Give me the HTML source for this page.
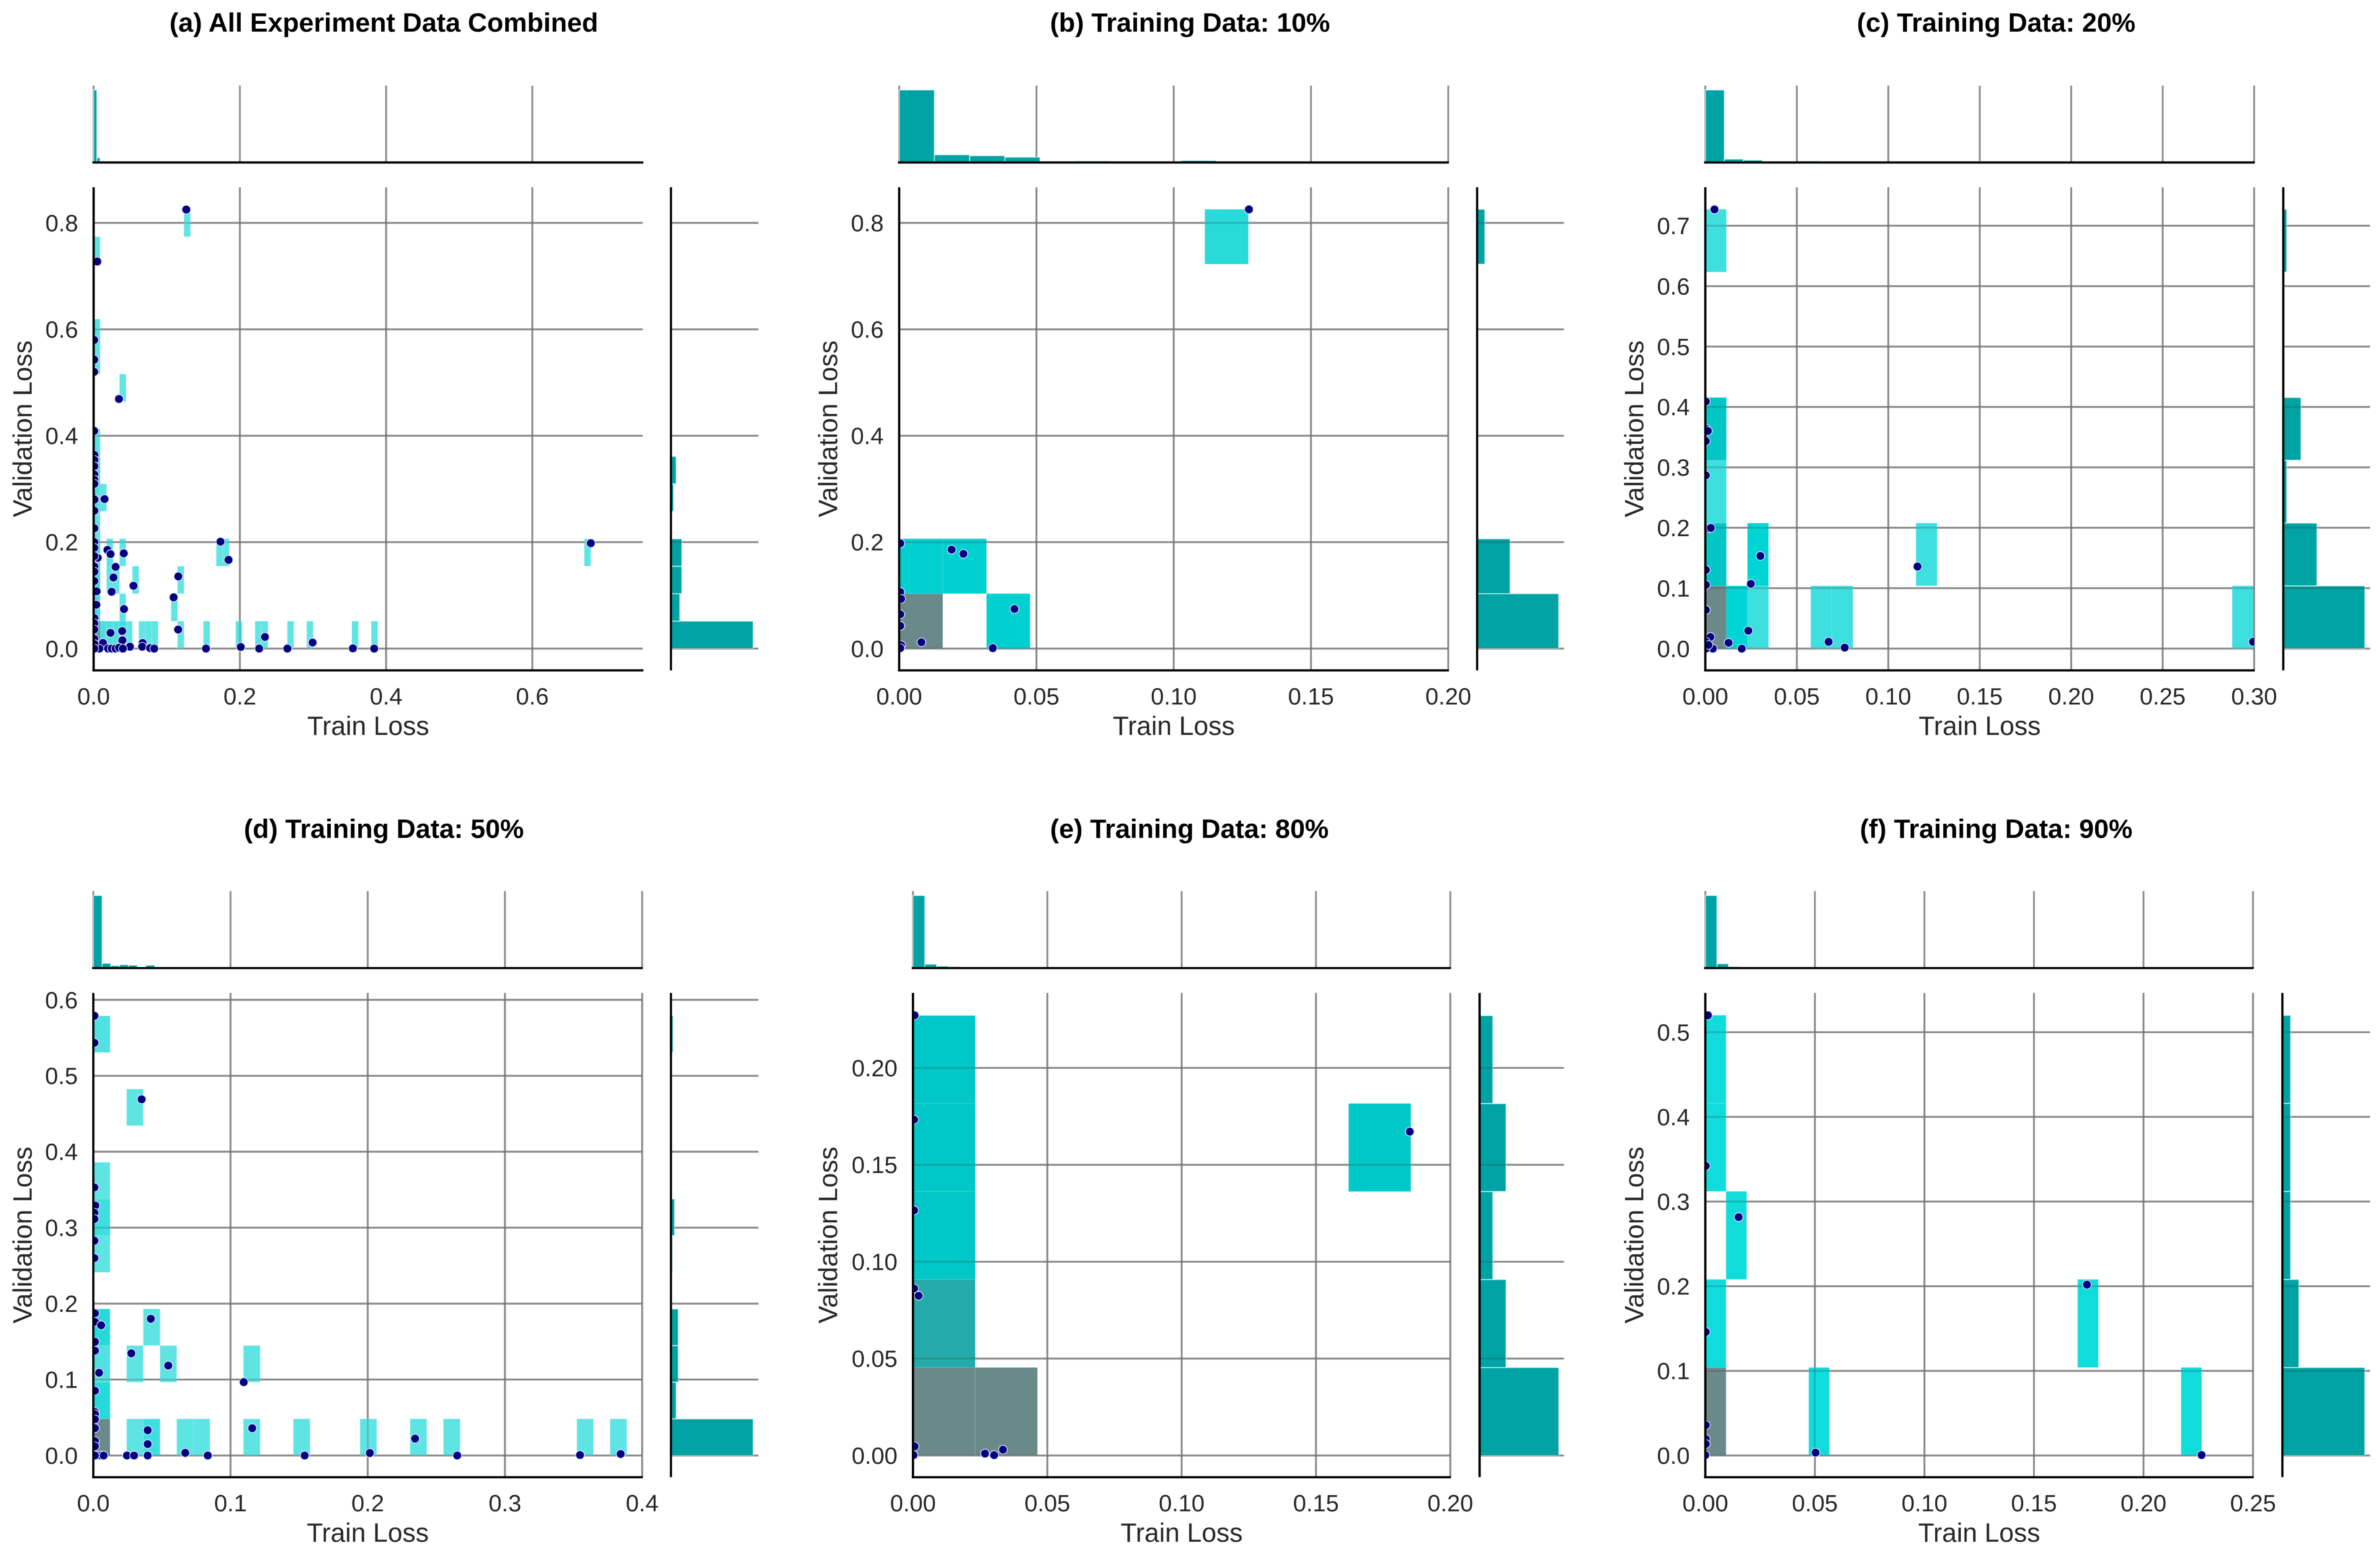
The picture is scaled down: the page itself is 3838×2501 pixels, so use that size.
<!DOCTYPE html>
<html lang="en">
<head>
<meta charset="utf-8">
<title>Train and validation loss joint plots</title>
<style>
html,body{margin:0;padding:0;background:#fff;}
svg{display:block;font-family:"Liberation Sans",Arial,sans-serif;filter:blur(0.6px);}
</style>
</head>
<body>
<svg id="figure" xmlns="http://www.w3.org/2000/svg" width="3838" height="2501" viewBox="0 0 3838 2501">
<rect x="0" y="0" width="3838" height="2501" fill="#ffffff"/>
</svg>
<script>
// ---------- Panel (a) ----------
const aTitle = "(a) All Experiment Data Combined";
const aXLabels = ["0.0","0.2","0.4","0.6"];
const aYLabels = ["0.0","0.2","0.4","0.6","0.8"];
const aXLim = [0, 0.751];
const aYLim = [-0.041, 0.8669];
const aTrainLoss = [0.1267,0.005,0.0008,0.0008,0.0008,0.0346,0.0008,0.68,0.3837,0.3546,0.2995,0.265,0.2343,0.2264,0.2012,0.1537,0.0149,0.0189,0.0231,0.0412,0.0056,0.03,0.0271,0.0545,0.1158,0.0246,0.1094,0.0415,0.1735,0.1845,0.039,0.0231,0.1156,0.0393,0.0127,0.067,0.0664,0.0497,0.0198,0.0248,0.03,0.0348,0.04,0.0772,0.0828,0.0051,0.0079,0.001,0.001,0.001,0.001,0.001,0.001,0.001,0.0012,0.001,0.001,0.001,0.001,0.001,0.001,0.001,0.001,0.0041,0.0037,0.001,0.001,0.001,0.001,0.001,0.001];
const aValLoss = [0.825,0.7274,0.58,0.543,0.52,0.469,0.409,0.198,0,0.0004,0.0113,0,0.0218,0,0.003,0,0.281,0.1853,0.1775,0.179,0.1705,0.1535,0.1336,0.118,0.1356,0.1068,0.0963,0.0742,0.2008,0.1667,0.033,0.0295,0.0357,0.0155,0.0105,0.0105,0.0035,0.0035,0,0,0,0.0016,0,0.001,0,0,0,0.364,0.3543,0.3427,0.3271,0.3174,0.3096,0.2824,0.28,0.2591,0.2261,0.2001,0.1892,0.1737,0.1542,0.1445,0.127,0.1076,0.0824,0.0571,0.0474,0.0357,0.0183,0.0085,0];
const aBinX = 0.00883;
const aBinY = 0.0516;
const aCellCol = [0,0,0,0,0,0,0,0,0,0,0,1,1,2,2,2,3,3,4,4,4,4,5,6,7,8,9,12,13,13,14,17,19,20,22,25,26,30,33,40,43,76];
const aCellRow = [0,1,2,3,4,5,6,7,10,11,14,5,0,3,2,0,2,0,3,1,0,9,0,2,0,0,0,1,2,0,15,0,3,3,0,0,0,0,0,0,0,3];
const aCellCount = [40,4,5,5,1,3,4,2,1,2,1,1,3,2,1,3,1,3,1,1,4,1,1,1,1,1,1,1,1,1,1,1,1,1,1,1,1,1,1,1,1,1];
const aTopBin = 0.0044;
const aTopCounts = [150,10,3,2,1,1,1,1,1,1];
const aRightCounts = [158,17,21,21,0,5,10,1,0,0,1,1,0,0,0,0];

// ---------- Panel (b) ----------
const bTitle = "(b) Training Data: 10%";
const bXLabels = ["0.00","0.05","0.10","0.15","0.20"];
const bYLabels = ["0.0","0.2","0.4","0.6","0.8"];
const bXLim = [0, 0.2];
const bYLim = [-0.041, 0.8669];
const bTrainLoss = [0.1274,0.0004,0.0191,0.0234,0.0004,0.0007,0.042,0.0004,0.0004,0.0081,0.0007,0.0004,0.0341];
const bValLoss = [0.8254,0.1977,0.186,0.178,0.1061,0.0934,0.0744,0.0644,0.0426,0.0118,0.0063,0.0009,0.0009];
const bBinX = 0.0159;
const bBinY = 0.1032;
const bCellCol = [0,0,1,2,7];
const bCellRow = [0,1,1,0,7];
const bCellCount = [8,2,2,2,1];
const bTopBin = 0.01283;
const bTopCounts = [150,16,14,11,1,3,1,1,4,1,0,1,1,1,0];
const bRightCounts = [42,17,0,0,0,0,0,4];

// ---------- Panel (c) ----------
const cTitle = "(c) Training Data: 20%";
const cXLabels = ["0.00","0.05","0.10","0.15","0.20","0.25","0.30"];
const cYLabels = ["0.0","0.1","0.2","0.3","0.4","0.5","0.6","0.7"];
const cXLim = [0, 0.3];
const cYLim = [-0.0361, 0.7637];
const cTrainLoss = [0.005,0.0003,0.0003,0.0014,0.0003,0.0003,0.0014,0.003,0.0301,0.0003,0.116,0.0003,0.0249,0.0003,0.0235,0.0028,0.0003,0.0127,0.0674,0.0762,0.2994,0.0199,0.0041,0.0003,0.0017];
const cValLoss = [0.727,0.409,0.3643,0.3603,0.3436,0.2868,0.199,0.1997,0.1534,0.1302,0.1358,0.1055,0.1071,0.0639,0.0296,0.0192,0.0112,0.0096,0.0112,0.0016,0.0112,0,0,0,0.006];
const cBinX = 0.01152;
const cBinY = 0.1039;
const cCellCol = [0,1,2,5,6,25,0,2,10,0,0,0];
const cCellRow = [0,0,0,0,0,0,1,1,1,2,3,6];
const cCellCount = [10,2,1,1,1,1,4,2,1,1,4,1];
const cTopBin = 0.0104;
const cTopCounts = [150,7,5,2,1,3,2,1,0,1,0,0,2,0,2];
const cRightCounts = [46,19,2,10,0,0,2];

// ---------- Panel (d) ----------
const dTitle = "(d) Training Data: 50%";
const dXLabels = ["0.0","0.1","0.2","0.3","0.4"];
const dYLabels = ["0.0","0.1","0.2","0.3","0.4","0.5","0.6"];
const dXLim = [0, 0.4];
const dYLim = [-0.0286, 0.6092];
const dTrainLoss = [0.0012,0.0012,0.0057,0.0419,0.0012,0.0012,0.0277,0.0546,0.0042,0.1096,0.0012,0.0012,0.0012,0.0012,0.0012,0.0396,0.1158,0.0396,0.0012,0.0012,0.067,0.0245,0.0297,0.0396,0.0834,0.154,0.0053,0.0075,0.0012,0.2015,0.2345,0.2652,0.3547,0.3843,0.0008,0.0008,0.0352,0.0008,0.0015,0.0008,0.0008,0.0008,0.0008];
const dValLoss = [0.1873,0.1761,0.1715,0.18,0.1497,0.138,0.1345,0.1184,0.1089,0.0966,0.0852,0.0572,0.0544,0.0476,0.0359,0.0332,0.0359,0.015,0.019,0.0122,0.0035,0,0,0,0,0,0,0,0,0.0033,0.0222,0,0.0006,0.002,0.579,0.5434,0.469,0.353,0.3292,0.3197,0.3114,0.2828,0.2599];
const dBinX = 0.01215;
const dBinY = 0.04825;
const dCellCol = [0,2,3,5,6,9,12,16,19,21,29,31,0,0,2,4,9,0,3,0,0,0,2,0];
const dCellRow = [0,0,0,0,0,0,0,0,0,0,0,0,1,2,2,2,2,3,3,5,6,7,9,11];
const dCellCount = [30,1,3,1,1,1,1,1,1,1,1,1,4,2,1,1,1,4,1,1,3,1,1,2];
const dTopBin = 0.0064;
const dTopCounts = [150,10,5,7,6,1,6,2,2,1,1,1,1,2,1,1,1,1,1,1,1,1,1,1,1];
const dRightCounts = [158,10,14,14,1,3,7,1,1,1,0,4];

// ---------- Panel (e) ----------
const eTitle = "(e) Training Data: 80%";
const eXLabels = ["0.00","0.05","0.10","0.15","0.20"];
const eYLabels = ["0.00","0.05","0.10","0.15","0.20"];
const eXLim = [0, 0.2];
const eYLim = [-0.0112, 0.2387];
const eTrainLoss = [0.0006,0.0004,0.0004,0.0004,0.0021,0.1849,0.0006,0.0002,0.0268,0.0302,0.0335];
const eValLoss = [0.2271,0.1733,0.1265,0.0862,0.0824,0.1671,0.0047,0.0002,0.001,0.0002,0.003];
const eBinX = 0.02316;
const eBinY = 0.0454;
const eCellCol = [0,1,0,0,0,0,7];
const eCellRow = [0,0,1,2,3,4,3];
const eCellCount = [3,3,2,1,1,1,1];
const eTopBin = 0.0044;
const eTopCounts = [150,8,4,3,1,2,1,2];
const eRightCounts = [6,2,1,2,1];

// ---------- Panel (f) ----------
const fTitle = "(f) Training Data: 90%";
const fXLabels = ["0.00","0.05","0.10","0.15","0.20","0.25"];
const fYLabels = ["0.0","0.1","0.2","0.3","0.4","0.5"];
const fXLim = [0, 0.25];
const fYLim = [-0.0256, 0.5465];
const fTrainLoss = [0.0012,0.0002,0.0152,0.1742,0.0002,0.0002,0.0002,0.0002,0.0503,0.2265,0];
const fValLoss = [0.52,0.3421,0.2816,0.2018,0.146,0.0359,0.0194,0.0137,0.0034,0.0006,0.0006];
const fBinX = 0.00944;
const fBinY = 0.104;
const fCellCol = [0,5,23,0,18,1,0,0];
const fCellRow = [0,0,0,1,1,2,3,4];
const fCellCount = [6,1,1,1,1,1,1,1];
const fTopBin = 0.0053;
const fTopCounts = [150,9,3,2,0,1,1,1,1,1,1];
const fRightCounts = [10,2,1,1,1];

// ---------- Layout (pixel frame of each joint plot) ----------
const ROW1 = {top:302, bottom:1081, histTop:138, histBase:262, titleY:51};
const ROW2 = {top:1601, bottom:2382, histTop:1437, histBase:1561, titleY:1351};
const panels = [
  {key:'a', row:ROW1, left:151, right:1036.5, rLeft:1082, rRight:1223, titleX:619, yLabelX:51, title:aTitle, xLabels:aXLabels, yLabels:aYLabels, xLim:aXLim, yLim:aYLim, train:aTrainLoss, val:aValLoss, binX:aBinX, binY:aBinY, col:aCellCol, rowIdx:aCellRow, count:aCellCount, topBin:aTopBin, topCounts:aTopCounts, rightCounts:aRightCounts},
  {key:'b', row:ROW1, left:1450, right:2335.5, rLeft:2382, rRight:2522, titleX:1919, yLabelX:1350, title:bTitle, xLabels:bXLabels, yLabels:bYLabels, xLim:bXLim, yLim:bYLim, train:bTrainLoss, val:bValLoss, binX:bBinX, binY:bBinY, col:bCellCol, rowIdx:bCellRow, count:bCellCount, topBin:bTopBin, topCounts:bTopCounts, rightCounts:bRightCounts},
  {key:'c', row:ROW1, left:2750, right:3635, rLeft:3682, rRight:3822, titleX:3219, yLabelX:2650, title:cTitle, xLabels:cXLabels, yLabels:cYLabels, xLim:cXLim, yLim:cYLim, train:cTrainLoss, val:cValLoss, binX:cBinX, binY:cBinY, col:cCellCol, rowIdx:cCellRow, count:cCellCount, topBin:cTopBin, topCounts:cTopCounts, rightCounts:cRightCounts},
  {key:'d', row:ROW2, left:150.5, right:1035.6, rLeft:1082, rRight:1223, titleX:619, yLabelX:51, title:dTitle, xLabels:dXLabels, yLabels:dYLabels, xLim:dXLim, yLim:dYLim, train:dTrainLoss, val:dValLoss, binX:dBinX, binY:dBinY, col:dCellCol, rowIdx:dCellRow, count:dCellCount, topBin:dTopBin, topCounts:dTopCounts, rightCounts:dRightCounts},
  {key:'e', row:ROW2, left:1472.3, right:2338.8, rLeft:2386, rRight:2522, titleX:1918, yLabelX:1350, title:eTitle, xLabels:eXLabels, yLabels:eYLabels, xLim:eXLim, yLim:eYLim, train:eTrainLoss, val:eValLoss, binX:eBinX, binY:eBinY, col:eCellCol, rowIdx:eCellRow, count:eCellCount, topBin:eTopBin, topCounts:eTopCounts, rightCounts:eRightCounts},
  {key:'f', row:ROW2, left:2750, right:3633.3, rLeft:3680.6, rRight:3822, titleX:3219, yLabelX:2650, title:fTitle, xLabels:fXLabels, yLabels:fYLabels, xLim:fXLim, yLim:fYLim, train:fTrainLoss, val:fValLoss, binX:fBinX, binY:fBinY, col:fCellCol, rowIdx:fCellRow, count:fCellCount, topBin:fTopBin, topCounts:fTopCounts, rightCounts:fRightCounts}
];

const NS = 'http://www.w3.org/2000/svg';
const figure = document.getElementById('figure');
const RAMP = [[0,100,230,230],[0.04,94,228,228],[0.1,61,223,223],[0.125,41,218,218],[0.17,15,220,220],[0.2,0,213,213],[0.33,0,200,200],[0.45,0,196,196],[0.67,38,170,170],[1,106,138,138]];

function cellColor(t){
  for(let i=1;i<RAMP.length;i++){
    if(t<=RAMP[i][0]){
      const a=RAMP[i-1], b=RAMP[i], f=(t-a[0])/(b[0]-a[0]);
      return 'rgb('+[1,2,3].map(k=>Math.round(a[k]+(b[k]-a[k])*f)).join(',')+')';
    }
  }
  return 'rgb(106,138,138)';
}
function make(tag, parent, props){
  const node = document.createElementNS(NS, tag);
  for(const k in props){ node.setAttribute(k, props[k]); }
  parent.appendChild(node);
  return node;
}

panels.forEach(function(p){
  const r = p.row;
  const sx = v => p.left + (v - p.xLim[0]) / (p.xLim[1] - p.xLim[0]) * (p.right - p.left);
  const sy = v => r.bottom - (v - p.yLim[0]) / (p.yLim[1] - p.yLim[0]) * (r.bottom - r.top);
  const topScale = v => v / Math.max.apply(null, p.topCounts) * 117;
  const rightLen = (p.rRight - p.rLeft) * 0.94;
  const rightScale = v => v / Math.max.apply(null, p.rightCounts) * rightLen;
  const maxCount = Math.max.apply(null, p.count);

  const g = make('g', figure, {});
  
  

  const clip = make('clipPath', g, {id:'clip-' + p.key});
  make('rect', clip, {x:p.left, y:r.top, width:p.right-p.left, height:r.bottom-r.top});

  const title = make('text', g, {x:p.titleX, y:r.titleY, 'text-anchor':'middle', 'font-size':43, 'font-weight':'bold', fill:'#000'});
  title.textContent = p.title;
  
  

  // grid
  p.xLabels.forEach(function(lab){
    const x = sx(parseFloat(lab));
    const gridMain = make('line', g, {x1:x, x2:x, y1:r.top, y2:r.bottom, stroke:'#a2a2a2', 'stroke-width':3});
    
    
    const gridTop = make('line', g, {x1:x, x2:x, y1:r.histTop, y2:r.histBase, stroke:'#8e8e8e', 'stroke-width':3});
    
    
    const tick = make('text', g, {x:x, y:r.bottom+55, 'text-anchor':'middle', 'font-size':38, fill:'#262626'});
    tick.textContent = lab;
    
    
  });
  p.yLabels.forEach(function(lab){
    const y = sy(parseFloat(lab));
    const gridMain = make('line', g, {x1:p.left, x2:p.right, y1:y, y2:y, stroke:'#a2a2a2', 'stroke-width':3});
    
    
    const gridRight = make('line', g, {x1:p.rLeft, x2:p.rRight, y1:y, y2:y, stroke:'#a2a2a2', 'stroke-width':3});
    
    
    const tick = make('text', g, {x:p.left-25, y:y+13.5, 'text-anchor':'end', 'font-size':38, fill:'#262626'});
    tick.textContent = lab;
    
    
  });

  // 2-D histogram cells
  const cells = make('g', g, {'clip-path':'url(#clip-' + p.key + ')'});
  p.col.forEach(function(c, i){
    const x0 = sx(c * p.binX), x1 = sx((c + 1) * p.binX);
    const y1 = sy(p.rowIdx[i] * p.binY), y0 = sy((p.rowIdx[i] + 1) * p.binY);
    const cell = make('rect', cells, {x:x0, y:y0, width:x1-x0, height:y1-y0, fill:cellColor(p.count[i]/maxCount), stroke:'#ffffff', 'stroke-opacity':0.12, 'stroke-width':1});
    
    
  });

  // top marginal histogram
  p.topCounts.forEach(function(v, i){
    if(!v) return;
    const h = topScale(v);
    const x0 = sx(i * p.topBin), x1 = sx((i + 1) * p.topBin);
    const bar = make('rect', g, {x:x0, y:r.histBase-h, width:x1-x0, height:h, fill:'#00a3a3', stroke:'#ffffff', 'stroke-opacity':0.7, 'stroke-width':1.5});
    
    
  });

  // right marginal histogram
  p.rightCounts.forEach(function(v, j){
    if(!v) return;
    const y1 = sy(j * p.binY), y0 = sy((j + 1) * p.binY);
    const bar = make('rect', g, {x:p.rLeft, y:y0, width:rightScale(v), height:y1-y0, fill:'#00a3a3', stroke:'#ffffff', 'stroke-opacity':0.7, 'stroke-width':1.5});
    
    
  });

  // faint gridlines showing through the translucent fills
  const overlay = make('g', g, {stroke:'#333333', 'stroke-opacity':0.22, 'stroke-width':3});
  p.xLabels.forEach(function(lab){
    const x = sx(parseFloat(lab));
    make('line', overlay, {x1:x, x2:x, y1:r.top, y2:r.bottom});
  });
  p.yLabels.forEach(function(lab){
    const y = sy(parseFloat(lab));
    make('line', overlay, {x1:p.left, x2:p.right, y1:y, y2:y});
    make('line', overlay, {x1:p.rLeft, x2:p.rRight, y1:y, y2:y});
  });

  // scatter points
  const pts = make('g', g, {'clip-path':'url(#clip-' + p.key + ')'});
  p.train.forEach(function(v, i){
    const dot = make('circle', pts, {cx:sx(v), cy:sy(p.val[i]), r:7, fill:'#000080', stroke:'#e8e8ff', 'stroke-width':1.2});
    
    
  });

  // spines
  const sb = make('line', g, {x1:p.left-2, x2:p.right+1, y1:r.bottom, y2:r.bottom, stroke:'#000', 'stroke-width':3.6});
  
  
  const sl = make('line', g, {x1:p.left, x2:p.left, y1:r.top, y2:r.bottom, stroke:'#000', 'stroke-width':3.6});
  
  
  const st = make('line', g, {x1:p.left-2, x2:p.right+1, y1:r.histBase, y2:r.histBase, stroke:'#000', 'stroke-width':3.6});
  
  
  const sr = make('line', g, {x1:p.rLeft, x2:p.rLeft, y1:r.top, y2:r.bottom, stroke:'#000', 'stroke-width':3.6});
  
  

  // axis titles
  const xt = make('text', g, {x:(p.left+p.right)/2, y:r.bottom+104, 'text-anchor':'middle', 'font-size':42.5, fill:'#262626'});
  xt.textContent = 'Train Loss';
  
  
  const yMid = (r.top + r.bottom) / 2;
  const yt = make('text', g, {x:p.yLabelX, y:yMid, 'text-anchor':'middle', 'font-size':42.5, fill:'#262626', transform:'rotate(-90 ' + p.yLabelX + ' ' + yMid + ')'});
  yt.textContent = 'Validation Loss';
  
  
});
</script>
</body>
</html>
